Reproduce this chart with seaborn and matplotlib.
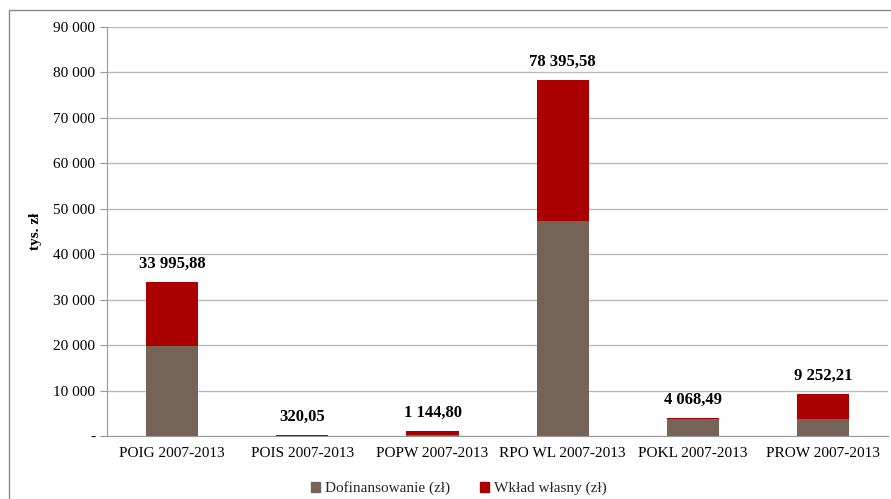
import pandas as pd
import matplotlib.pyplot as plt
import seaborn as sns
from matplotlib.patches import Patch, Rectangle

programs = ["POIG 2007-2013", "POIS 2007-2013", "POPW 2007-2013",
            "RPO WL 2007-2013", "POKL 2007-2013", "PROW 2007-2013"]
totals = [33995.88, 320.05, 1144.80, 78395.58, 4068.49, 9252.21]
dofinansowanie = [19800, 60, 200, 47250, 3700, 3800]
total_labels = ["33 995,88", "320,05", "1 144,80", "78 395,58", "4 068,49", "9 252,21"]
yticks = [0, 10000, 20000, 30000, 40000, 50000, 60000, 70000, 80000, 90000]
ytick_labels = ["-", "10 000", "20 000", "30 000", "40 000", "50 000",
                "60 000", "70 000", "80 000", "90 000"]

brown = "#756358"
red = "#AA0000"

sns.set_style("white")
plt.rcParams['font.family'] = ['Liberation Serif', 'DejaVu Serif']

df = pd.DataFrame({"program": programs, "total": totals, "dof": dofinansowanie})

fig = plt.figure(figsize=(8.91, 4.99), dpi=100)
ax = fig.add_axes([0.120, 0.126, 0.877, 0.820])

sns.barplot(data=df, x="program", y="total", color=red, width=0.4,
            saturation=1, linewidth=0, ax=ax)
sns.barplot(data=df, x="program", y="dof", color=brown, width=0.4,
            saturation=1, linewidth=0, ax=ax)

for i, (t, lab) in enumerate(zip(totals, total_labels)):
    ax.annotate(lab, (i, t), xytext=(0, 7), textcoords="offset points",
                ha="center", va="bottom", fontsize=12, fontweight="bold",
                color="black")

ax.set_ylim(0, 90000)
ax.set_xlim(-0.5, 5.5)
ax.set_yticks(yticks)
ax.set_yticklabels(ytick_labels, fontsize=11, color="black")
ax.set_xticks(range(6))
ax.set_xticklabels(programs, fontsize=11, color="black")
ax.set_xticks([x - 0.5 for x in range(7)], minor=True)
ax.tick_params(axis="x", which="major", length=0, pad=8)
ax.tick_params(axis="x", which="minor", length=5, color="#999999", direction="out")
ax.tick_params(axis="y", length=5, color="#999999", direction="out", left=True)
ax.yaxis.grid(True, color="#BBBBBB", linewidth=1)
ax.set_axisbelow(True)
ax.set_xlabel("")
ax.set_ylabel("tys. zł", fontsize=11, fontweight="bold", labelpad=8, color="black")

for s in ["top", "right"]:
    ax.spines[s].set_visible(False)
for s in ["left", "bottom"]:
    ax.spines[s].set_color("#999999")

handles = [Patch(color=brown, label="Dofinansowanie (zł)"),
           Patch(color=red, label="Wkład własny (zł)")]
fig.legend(handles=handles, loc="lower center", ncol=2, frameon=False,
           fontsize=11, handlelength=0.6, handleheight=0.6,
           bbox_to_anchor=(0.515, -0.02), columnspacing=2, handletextpad=0.3)

fig.patches.append(Rectangle((9 / 891, -0.1), 1.1, 1 - 10 / 499 + 0.1,
                             transform=fig.transFigure, fill=False,
                             edgecolor="#888888", linewidth=1))

plt.savefig("out.png", dpi=100)
